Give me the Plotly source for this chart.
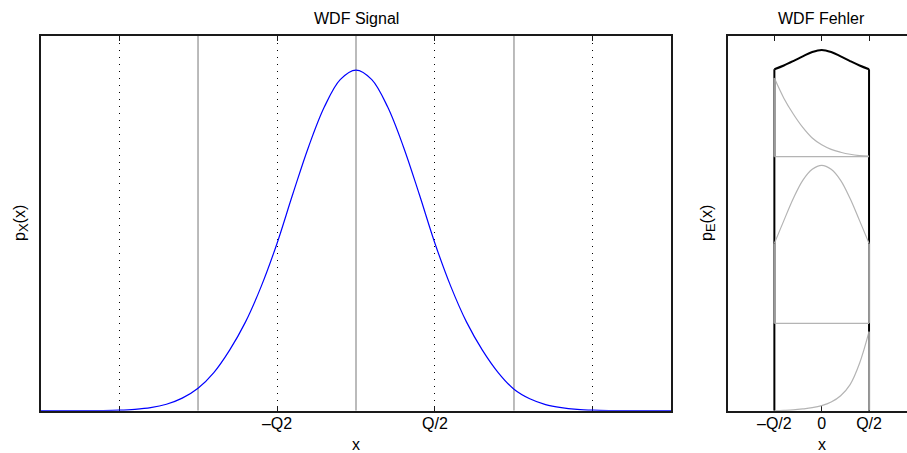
import plotly.graph_objects as go

# ---------------- data ----------------
# left panel: signal pdf (x in units of Q, peak normalised to 1)
sig_x = [-2.0, -1.9, -1.8, -1.7, -1.6, -1.5, -1.4, -1.3, -1.2, -1.1, -1.0,
         -0.9, -0.8, -0.7, -0.6, -0.5, -0.4, -0.3, -0.2, -0.1, 0.0,
         0.1, 0.2, 0.3, 0.4, 0.5, 0.6, 0.7, 0.8, 0.9, 1.0,
         1.1, 1.2, 1.3, 1.4, 1.5, 1.6, 1.7, 1.8, 1.9, 2.0]
sig_p = [0.0, 0.0, 0.0, 0.0002, 0.0005, 0.0015, 0.004, 0.009, 0.019, 0.037, 0.066,
         0.112, 0.178, 0.26, 0.365, 0.491, 0.636, 0.775, 0.892, 0.972, 1.0,
         0.972, 0.892, 0.775, 0.636, 0.491, 0.365, 0.26, 0.178, 0.112, 0.063,
         0.035, 0.018, 0.009, 0.004, 0.0015, 0.0005, 0.0002, 0.0, 0.0, 0.0]
bin_edges = [-1.0, 0.0, 1.0]
sig_tick_vals = [-1.5, -0.5, 0.5, 1.5]
sig_tick_text = ["", "\u2013Q2", "Q/2", ""]

# right panel: error pdf pieces on [-Q/2, Q/2]
err_x = [-0.5, -0.4, -0.3, -0.2, -0.1, 0.0, 0.1, 0.2, 0.3, 0.4, 0.5]
err_low = [0.0, 0.002, 0.005, 0.011, 0.019, 0.032, 0.055, 0.095, 0.165, 0.30, 0.50]
err_mid = [0.506, 0.65, 0.79, 0.905, 0.975, 1.0, 0.975, 0.905, 0.79, 0.65, 0.506]
err_top = [0.497, 0.37, 0.27, 0.185, 0.118, 0.075, 0.046, 0.028, 0.015, 0.007, 0.003]
err_sum = [2.161, 2.185, 2.213, 2.243, 2.27, 2.283, 2.27, 2.243, 2.213, 2.185, 2.161]
piece_bases = [0.0, 0.553, 1.608]
err_tick_vals = [-0.5, 0.0, 0.5]
err_tick_text = ["\u2013Q/2", "0", "Q/2"]

# ---------------- figure ----------------
W, H = 907, 453
FONT = "Liberation Sans, Arial, sans-serif"
FS = 16
GRAY = "#b4b4b4"
GRAY_EDGE = "#9a9a9a"
sig_ymax = 1.1
err_ymax = 2.3715

fig = go.Figure()

# left: bin edges (gray)
for e in bin_edges:
    fig.add_trace(go.Scatter(x=[e, e], y=[0, sig_ymax], mode="lines",
                             line=dict(color=GRAY, width=1.8),
                             xaxis="x", yaxis="y", hoverinfo="skip"))
# left: signal pdf
fig.add_trace(go.Scatter(x=sig_x, y=sig_p, mode="lines",
                         line=dict(color="#0000ff", width=1.2, shape="spline"),
                         cliponaxis=False, xaxis="x", yaxis="y"))

# right: black outline of the summed error pdf
xl, xr = err_x[0], err_x[-1]
for xe, ye in ((xl, err_sum[0]), (xr, err_sum[-1])):
    fig.add_trace(go.Scatter(x=[xe, xe], y=[0, ye], mode="lines",
                             line=dict(color="black", width=2),
                             cliponaxis=False, xaxis="x2", yaxis="y2", hoverinfo="skip"))
fig.add_trace(go.Scatter(x=err_x, y=err_sum, mode="lines",
                         line=dict(color="black", width=2, shape="spline"),
                         xaxis="x2", yaxis="y2"))

# right: stacked gray pieces
for base, vals in zip(piece_bases, (err_low, err_mid, err_top)):
    yy = [base + v for v in vals]
    fig.add_trace(go.Scatter(x=err_x, y=yy, mode="lines",
                             line=dict(color=GRAY, width=1.2, shape="spline"),
                             xaxis="x2", yaxis="y2", hoverinfo="skip"))
    if base > 0:
        fig.add_trace(go.Scatter(x=[xl, xr], y=[base, base], mode="lines",
                                 line=dict(color=GRAY, width=1.4),
                                 xaxis="x2", yaxis="y2", hoverinfo="skip"))
    for xe, v in ((xl, vals[0]), (xr, vals[-1])):
        if v > 0.01:
            fig.add_trace(go.Scatter(x=[xe, xe], y=[base, base + v], mode="lines",
                                     line=dict(color=GRAY_EDGE, width=2),
                                     cliponaxis=False, xaxis="x2", yaxis="y2",
                                     hoverinfo="skip"))

# ---------------- layout ----------------
def px_x(p):
    return p / W

def px_y(p):
    return (H - p) / H

y_dom = [px_y(410.7), px_y(36)]
axis_common = dict(showline=True, linecolor="#1a1a1a", linewidth=1.5,
                   zeroline=False, layer="below traces",
                   tickfont=dict(family=FONT, size=FS, color="black"))

fig.update_layout(
    width=W, height=H, margin=dict(l=0, r=0, t=0, b=0),
    paper_bgcolor="white", plot_bgcolor="white", showlegend=False,
    font=dict(family=FONT, size=FS, color="black"),
    xaxis=dict(domain=[px_x(41), px_x(671)], range=[-1.994, 1.994],
               tickmode="array", tickvals=sig_tick_vals, ticktext=sig_tick_text,
               ticks="inside", ticklen=5, tickwidth=1, tickcolor="#1a1a1a",
               mirror="ticks", showgrid=True, gridcolor="black", gridwidth=1,
               griddash="1px,6px", ticklabelstandoff=-3, anchor="y", **axis_common),
    yaxis=dict(domain=y_dom, range=[0, sig_ymax], showticklabels=False,
               ticks="", mirror=True, showgrid=False, anchor="x", **axis_common),
    xaxis2=dict(domain=[px_x(727.7), 1.0], range=[-0.993, 0.901],
                tickmode="array", tickvals=err_tick_vals, ticktext=err_tick_text,
                ticks="inside", ticklen=5, tickwidth=1, tickcolor="#1a1a1a",
                mirror="ticks", showgrid=False, ticklabelstandoff=-3,
                anchor="y2", **axis_common),
    yaxis2=dict(domain=y_dom, range=[0, err_ymax], showticklabels=False,
                ticks="", mirror=False, showgrid=False, anchor="x2", **axis_common),
)

SUB = "<sub><span style='font-size:13px'>{}</span></sub>"
ann = [
    dict(text="WDF Signal", x=0, xref="x", y=px_y(18.2), yref="paper",
         xanchor="center", yanchor="middle"),
    dict(text="WDF Fehler", x=0, xref="x2", y=px_y(18.2), yref="paper",
         xanchor="center", yanchor="middle"),
    dict(text="x", x=0, xref="x", y=px_y(444.4), yref="paper",
         xanchor="center", yanchor="middle"),
    dict(text="x", x=0, xref="x2", y=px_y(444.4), yref="paper",
         xanchor="center", yanchor="middle"),
    dict(text="p" + SUB.format("X") + "(x)", x=px_x(21), xref="paper", y=px_y(223),
         yref="paper", xanchor="center", yanchor="middle", textangle=-90),
    dict(text="p" + SUB.format("E") + "(x)", x=px_x(708), xref="paper", y=px_y(223),
         yref="paper", xanchor="center", yanchor="middle", textangle=-90),
]
for a in ann:
    a.update(showarrow=False, font=dict(family=FONT, size=FS, color="black"))
fig.update_layout(annotations=ann)

fig.write_html(
    "out.html",
    config={"displayModeBar": False},
    post_script="document.body.style.margin='0';document.body.style.overflow='hidden';",
)
